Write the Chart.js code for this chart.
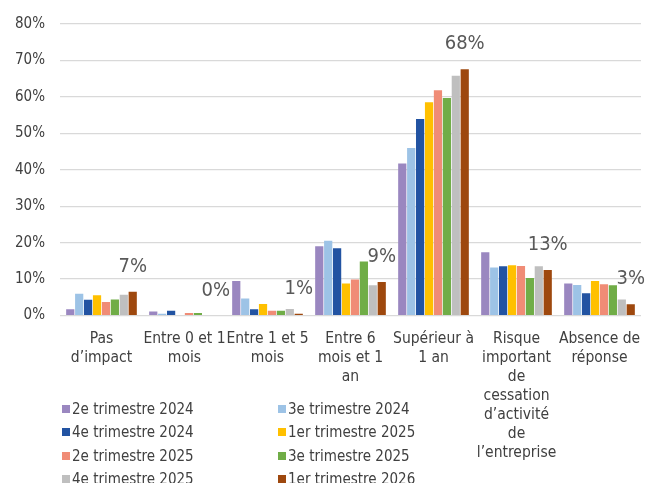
<!DOCTYPE html>
<html>
<head>
<meta charset="utf-8">
<script src="https://cdn.jsdelivr.net/npm/chart.js@4/dist/chart.umd.min.js"></script>
<style>
  body { margin: 0; background: #fff; }
  #wrap { position: relative; width: 647px; height: 483px; }
  #legend {
    position: absolute; left: 62px; top: 397px;
    display: grid; grid-template-columns: 216px 200px; grid-auto-rows: 23.5px;
    font-family: 'DejaVu Sans Condensed', 'Liberation Sans Narrow', sans-serif;
    font-size: 15px; color: #404040;
  }
  #legend .item { display: flex; align-items: center; white-space: nowrap; }
  #legend .box { width: 8px; height: 8px; margin-right: 2px; }
</style>
</head>
<body>
<div id="wrap">
  <canvas id="chart" width="647" height="483"></canvas>
  <div id="legend"></div>
</div>
<script>
/* =========================
   DATA
========================= */
const categories = [
  ["Pas", "d’impact"],
  ["Entre 0 et 1", "mois"],
  ["Entre 1 et 5", "mois"],
  ["Entre 6", "mois et 1", "an"],
  ["Supérieur à", "1 an"],
  ["Risque", "important", "de", "cessation", "d’activité", "de", "l’entreprise"],
  ["Absence de", "réponse"]
];

const seriesNames = [
  "2e trimestre 2024", "3e trimestre 2024",
  "4e trimestre 2024", "1er trimestre 2025",
  "2e trimestre 2025", "3e trimestre 2025",
  "4e trimestre 2025", "1er trimestre 2026"
];

const t2_2024 = [1.7, 1.1, 9.5, 19.0, 41.7, 17.4, 8.8];
const t3_2024 = [6.0, 0.5, 4.7, 20.5, 46.0, 13.2, 8.4];
const t4_2024 = [4.3, 1.3, 1.7, 18.5, 53.9, 13.5, 6.1];
const t1_2025 = [5.6, 0.0, 3.2, 8.8, 58.5, 13.8, 9.5];
const t2_2025 = [3.7, 0.7, 1.3, 9.9, 61.8, 13.6, 8.6];
const t3_2025 = [4.4, 0.7, 1.3, 14.8, 59.7, 10.3, 8.3];
const t4_2025 = [5.7, 0.0, 1.8, 8.3, 65.8, 13.5, 4.4];
const t1_2026 = [6.5, 0.0, 0.5, 9.2, 67.6, 12.5, 3.1];

const yTicks = [0, 10, 20, 30, 40, 50, 60, 70, 80];

const colors = ["#9A87C0", "#9DC3E6", "#2253A2", "#FFC000",
                "#F08C76", "#70AD47", "#BFBFBF", "#9E480E"];

const FONT = "'DejaVu Sans Condensed', 'Liberation Sans Narrow', sans-serif";

/* =========================
   LABELS ON LAST SERIES
========================= */
const lastLabels = {
  id: "lastLabels",
  afterDatasetsDraw(chart) {
    const idx = chart.data.datasets.length - 1;
    const meta = chart.getDatasetMeta(idx);
    const ctx = chart.ctx;
    ctx.save();
    ctx.font = "20px " + FONT;
    ctx.fillStyle = "#595959";
    ctx.textAlign = "center";
    ctx.textBaseline = "middle";
    meta.data.forEach((el, i) => {
      const v = chart.data.datasets[idx].data[i];
      ctx.fillText(Math.round(v) + "%", el.x, el.y - 25);
    });
    ctx.restore();
  }
};

/* =========================
   CHART
========================= */
const allSeries = [t2_2024, t3_2024, t4_2024, t1_2025, t2_2025, t3_2025, t4_2025, t1_2026];

new Chart(document.getElementById("chart"), {
  type: "bar",
  data: {
    labels: categories,
    datasets: allSeries.map((d, i) => ({
      label: seriesNames[i],
      data: d,
      backgroundColor: colors[i],
      borderWidth: 0,
      barPercentage: 0.92,
      categoryPercentage: 0.86
    }))
  },
  options: {
    responsive: false,
    animation: false,
    layout: { padding: { top: 19, left: 0, right: 0, bottom: 6 } },
    plugins: { legend: { display: false }, tooltip: { enabled: false } },
    scales: {
      x: {
        // last label may overhang a little, like the original
        afterFit: axis => { axis.paddingRight = 6; },
        grid: { display: false, drawTicks: false },
        border: { display: false },
        ticks: {
          color: "#404040", autoSkip: false, maxRotation: 0, padding: 14,
          font: { family: FONT, size: 15.5, lineHeight: 1.23 }
        }
      },
      y: {
        min: 0, max: 80,
        afterBuildTicks: axis => { axis.ticks = yTicks.map(v => ({ value: v })); },
        grid: { color: "#D9D9D9", lineWidth: 1.3, drawTicks: false },
        border: { display: false },
        ticks: {
          color: "#404040", padding: 15,
          font: { family: FONT, size: 15 },
          callback: v => v + "%"
        }
      }
    }
  },
  plugins: [lastLabels]
});

/* =========================
   LEGEND
========================= */
const legend = document.getElementById("legend");
seriesNames.forEach((name, i) => {
  legend.innerHTML += `<div class="item"><span class="box" style="background:${colors[i]}"></span>${name}</div>`;
});
</script>
</body>
</html>
